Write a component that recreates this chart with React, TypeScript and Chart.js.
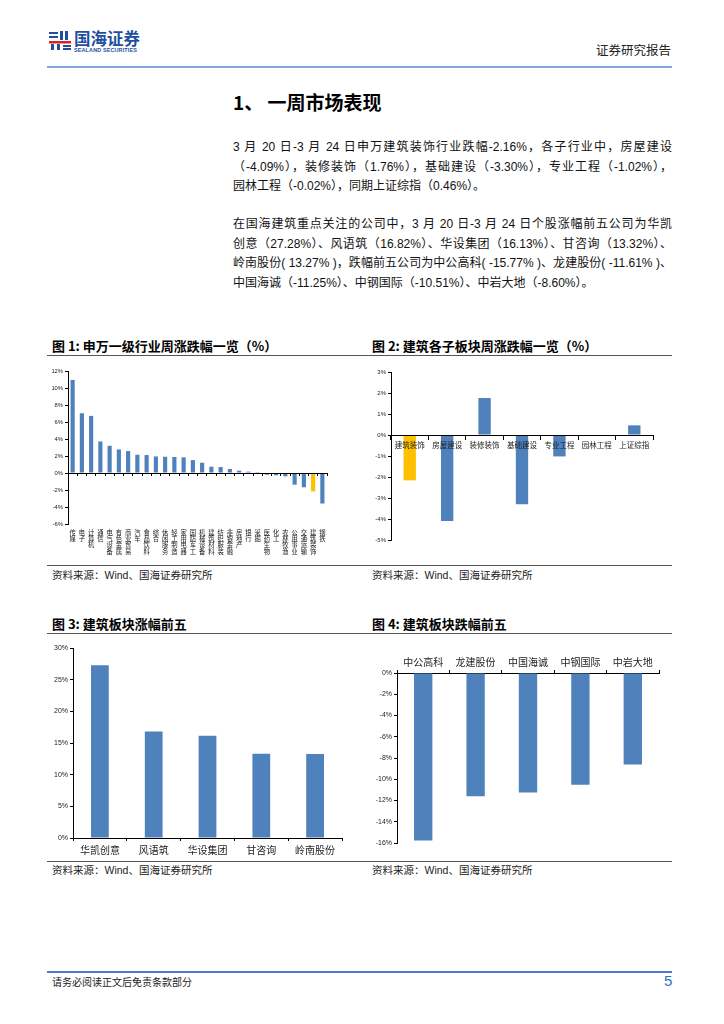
import React, { useEffect, useRef } from 'react';
import { Chart, registerables } from 'chart.js';

Chart.register(...registerables);

const BLUE = '#4F81BD';
const GOLD = '#FFC000';
const LATIN = '"Liberation Sans", Arial, "Noto Sans CJK SC", sans-serif';
const CJK = '"Noto Sans CJK SC", "Liberation Sans", sans-serif';
const HIGHLIGHT = '建筑装饰';

// Figure 1: SW level-1 industries weekly change (%)
const industryLabels = ['传媒', '电子', '计算机', '通信', '电气设备', '有色金属', '商业贸易', '汽车', '食品饮料', '综合', '休闲服务', '轻工制造', '家用电器', '国防军工', '机械设备', '建筑材料', '纺织服装', '非银金融', '房地产', '银行', '采掘', '医药生物', '化工', '农林牧渔', '公用事业', '交通运输', '建筑装饰', '钢铁'];
const industryValues = [10.95, 7.03, 6.72, 3.71, 3.2, 2.77, 2.58, 2.15, 2.11, 1.95, 1.91, 1.88, 1.84, 1.52, 1.21, 0.74, 0.7, 0.47, 0.27, 0.16, 0.02, -0.2, -0.27, -0.39, -1.37, -1.68, -2.16, -3.59];

// Figure 2: construction sub-sectors weekly change (%)
const subLabels = ['建筑装饰', '房屋建设', '装修装饰', '基础建设', '专业工程', '园林工程', '上证综指'];
const subValues = [-2.16, -4.09, 1.76, -3.3, -1.02, -0.02, 0.46];

// Figure 3: top 5 gainers
const topLabels = ['华凯创意', '风语筑', '华设集团', '甘咨询', '岭南股份'];
const topValues = [27.28, 16.82, 16.13, 13.32, 13.27];

// Figure 4: top 5 losers
const lossLabels = ['中公高科', '龙建股份', '中国海诚', '中钢国际', '中岩大地'];
const lossValues = [-15.77, -11.61, -11.25, -10.51, -8.6];

const pct = (v: any) => `${v}%`;

const baseOptions = (padding: any) => ({
  animation: false as const,
  responsive: false,
  maintainAspectRatio: false,
  plugins: { legend: { display: false }, tooltip: { enabled: false } },
  layout: { padding },
});

const yAxis = (min: number, max: number, step: number, width: number, fontSize: number) => ({
  min,
  max,
  ticks: { stepSize: step, callback: pct, font: { size: fontSize, family: LATIN }, color: '#222', padding: 2 },
  grid: { display: true, drawOnChartArea: false, drawTicks: true, tickLength: 3, color: '#000' },
  border: { display: true, color: '#000', width: 1 },
  afterFit: (s: any) => { s.width = width; },
});

function ChartBox({ left, top, width, height, make }: { left: number; top: number; width: number; height: number; make: () => any }) {
  const ref = useRef<HTMLCanvasElement>(null);
  useEffect(() => {
    const chart = new Chart(ref.current as HTMLCanvasElement, make());
    return () => chart.destroy();
  }, []);
  return (
    <div style={{ position: 'absolute', left, top, width, height }}>
      <canvas ref={ref} width={width} height={height} style={{ width, height, display: 'block' }} />
    </div>
  );
}

const chart1 = () => ({
  type: 'bar',
  data: {
    labels: industryLabels.map((s) => s.split('')),
    datasets: [{
      data: industryValues,
      backgroundColor: industryLabels.map((l) => (l === HIGHLIGHT ? GOLD : BLUE)),
      categoryPercentage: 1,
      barPercentage: 0.45,
    }],
  },
  options: {
    ...baseOptions({ top: 9, right: 20, left: 0, bottom: 0 }),
    scales: {
      x: {
        grid: { display: false, drawTicks: false },
        border: { display: false },
        ticks: { font: { size: 6.3, family: CJK, lineHeight: 1.02 }, color: '#222', padding: 5, maxRotation: 0, minRotation: 0, autoSkip: false },
        afterFit: (s: any) => { s.height = 36; },
      },
      x2: {
        axis: 'x',
        type: 'category',
        position: { y: 0 },
        offset: true,
        grid: { display: true, offset: true, drawOnChartArea: false, drawTicks: true, tickLength: 2, color: '#000' },
        border: { display: true, color: '#000', width: 1, z: 1 },
        ticks: { display: false },
      },
      y: yAxis(-6, 12, 2, 21, 5.8),
    },
  },
});

const chart2 = () => ({
  type: 'bar',
  data: {
    labels: subLabels,
    datasets: [{
      data: subValues,
      backgroundColor: subLabels.map((l) => (l === HIGHLIGHT ? GOLD : BLUE)),
      categoryPercentage: 1,
      barPercentage: 0.33,
    }],
  },
  options: {
    ...baseOptions({ top: 10, right: 14, left: 0, bottom: 8 }),
    scales: {
      x: {
        position: { y: 0 },
        offset: true,
        grid: { display: true, offset: true, drawOnChartArea: false, drawTicks: true, tickLength: 4, color: '#000', z: 1 },
        border: { display: true, color: '#000', width: 1, z: 1 },
        ticks: { z: 1, font: { size: 7.5, family: CJK }, color: '#222', padding: 2, maxRotation: 0, minRotation: 0, autoSkip: false },
      },
      y: yAxis(-5, 3, 1, 24, 6),
    },
  },
});

const chart3 = () => ({
  type: 'bar',
  data: {
    labels: topLabels,
    datasets: [{ data: topValues, backgroundColor: BLUE, categoryPercentage: 1, barPercentage: 0.33 }],
  },
  options: {
    ...baseOptions({ top: 8, right: 15, left: 0, bottom: 0 }),
    scales: {
      x: {
        offset: true,
        grid: { display: true, offset: true, drawOnChartArea: false, drawTicks: true, tickLength: 3, color: '#000' },
        border: { display: true, color: '#000', width: 1 },
        ticks: { font: { size: 10, family: CJK }, color: '#222', padding: 3, maxRotation: 0, minRotation: 0, autoSkip: false },
        afterFit: (s: any) => { s.height = 22; },
      },
      y: yAxis(0, 30, 5, 26, 7),
    },
  },
});

const chart4 = () => ({
  type: 'bar',
  data: {
    labels: lossLabels,
    datasets: [{ data: lossValues, backgroundColor: BLUE, categoryPercentage: 1, barPercentage: 0.35 }],
  },
  options: {
    ...baseOptions({ top: 0, right: 8, left: 0, bottom: 7 }),
    scales: {
      x: {
        position: 'top',
        offset: true,
        grid: { display: true, offset: true, drawOnChartArea: false, drawTicks: true, tickLength: 3, color: '#000' },
        border: { display: true, color: '#000', width: 1 },
        ticks: { font: { size: 10, family: CJK }, color: '#222', padding: 2, maxRotation: 0, minRotation: 0, autoSkip: false },
        afterFit: (s: any) => { s.height = 28; },
      },
      y: yAxis(-16, 0, 2, 30, 7),
    },
  },
});

const abs = (left: number, top: number, extra: React.CSSProperties = {}): React.CSSProperties => ({ position: 'absolute', left, top, whiteSpace: 'nowrap', ...extra });

const p1 = [
  '3 月 20 日-3 月 24 日申万建筑装饰行业跌幅-2.16%，各子行业中，房屋建设',
  '（-4.09%），装修装饰（1.76%），基础建设（-3.30%），专业工程（-1.02%），',
  '园林工程（-0.02%），同期上证综指（0.46%）。',
];
const p2 = [
  '在国海建筑重点关注的公司中，3 月 20 日-3 月 24 日个股涨幅前五公司为华凯',
  '创意（27.28%）、风语筑（16.82%）、华设集团（16.13%）、甘咨询（13.32%）、',
  '岭南股份( 13.27% )，跌幅前五公司为中公高科( -15.77% )、龙建股份( -11.61% )、',
  '中国海诚（-11.25%）、中钢国际（-10.51%）、中岩大地（-8.60%）。',
];

function Para({ lines, top }: { lines: string[]; top: number }) {
  return (
    <>
      {lines.map((l, i) => {
        const last = i === lines.length - 1;
        return (
          <div key={i} style={{
            position: 'absolute', left: 233, top: top + i * 19.7, width: 439, height: 20, lineHeight: '20px',
            fontSize: 12, whiteSpace: 'nowrap', textAlign: last ? 'left' : 'justify', textAlignLast: last ? 'left' : 'justify',
            color: '#111',
          }}>{l}</div>
        );
      })}
    </>
  );
}

const rule = (top: number, color = '#555', h = 1): React.CSSProperties => ({ position: 'absolute', left: 47, top, width: 625, height: h, background: color });

const titleStyle: React.CSSProperties = { fontFamily: CJK, fontWeight: 700, fontSize: 13, lineHeight: '16px' };
const srcStyle: React.CSSProperties = { fontFamily: CJK, fontSize: 10.5, lineHeight: '16px', color: '#222' };

export default function App() {
  return (
    <div style={{ position: 'absolute', left: 0, top: 0, width: 724, height: 1024, background: '#fff', fontFamily: LATIN, color: '#000', overflow: 'hidden' }}>
      {/* header */}
      <svg style={{ position: 'absolute', left: 49, top: 31 }} width={22} height={19}>
        <rect x={0} y={1} width={9} height={2} fill="#1F4FA0" />
        <rect x={0} y={5} width={9} height={2} fill="#1F4FA0" />
        <rect x={11} y={0} width={3} height={9} fill="#1F4FA0" />
        <rect x={16} y={0} width={3} height={9} fill="#1F4FA0" />
        <rect x={0} y={10} width={22} height={2.5} fill="#E02020" />
        <rect x={2} y={13} width={3} height={6} fill="#1F4FA0" />
        <rect x={8} y={13} width={3} height={6} fill="#1F4FA0" />
        <rect x={14} y={14} width={8} height={2} fill="#1F4FA0" />
        <rect x={14} y={17} width={8} height={2} fill="#1F4FA0" />
      </svg>
      <div style={abs(74, 30, { fontFamily: CJK, fontWeight: 700, fontSize: 16.5, lineHeight: '17px', color: '#1F4FA0' })}>国海证券</div>
      <div style={abs(74, 47, { fontFamily: LATIN, fontWeight: 700, fontSize: 5.5, lineHeight: '6px', color: '#1F4FA0', letterSpacing: 0.1 })}>SEALAND SECURITIES</div>
      <div style={abs(596, 42, { fontFamily: CJK, fontSize: 12.5, lineHeight: '16px', color: '#222' })}>证券研究报告</div>
      <div style={rule(66, '#7EA6E0', 1.5)} />

      {/* section title */}
      <div style={abs(233, 90, { fontFamily: CJK, fontWeight: 700, fontSize: 19, lineHeight: '24px' })}>1、 一周市场表现</div>

      <Para lines={p1} top={137} />
      <Para lines={p2} top={214} />

      {/* figure 1 & 2 titles */}
      <div style={abs(52, 338, titleStyle)}>图 1:  申万一级行业周涨跌幅一览（%）</div>
      <div style={abs(372, 338, titleStyle)}>图 2:  建筑各子板块周涨跌幅一览（%）</div>
      <div style={rule(355)} />

      <ChartBox left={47} top={362} width={300} height={198} make={chart1} />
      <ChartBox left={367} top={362} width={300} height={186} make={chart2} />

      <div style={rule(565)} />
      <div style={abs(52, 567, srcStyle)}>资料来源：<span style={{ fontFamily: LATIN }}>Wind</span>、国海证券研究所</div>
      <div style={abs(372, 567, srcStyle)}>资料来源：<span style={{ fontFamily: LATIN }}>Wind</span>、国海证券研究所</div>

      {/* figure 3 & 4 titles */}
      <div style={abs(52, 616, titleStyle)}>图 3:  建筑板块涨幅前五</div>
      <div style={abs(372, 616, titleStyle)}>图 4:  建筑板块跌幅前五</div>
      <div style={rule(633)} />

      <ChartBox left={47} top={640} width={310} height={220} make={chart3} />
      <ChartBox left={367} top={645} width={300} height={205} make={chart4} />

      <div style={rule(861)} />
      <div style={abs(52, 862, srcStyle)}>资料来源：<span style={{ fontFamily: LATIN }}>Wind</span>、国海证券研究所</div>
      <div style={abs(372, 862, srcStyle)}>资料来源：<span style={{ fontFamily: LATIN }}>Wind</span>、国海证券研究所</div>

      {/* footer */}
      <div style={rule(971, '#4A7CC9', 1.5)} />
      <div style={abs(52, 974, { fontFamily: CJK, fontSize: 10, lineHeight: '16px', color: '#222' })}>请务必阅读正文后免责条款部分</div>
      <div style={abs(664, 971, { fontFamily: LATIN, fontSize: 15, lineHeight: '20px', color: '#2F6EBA' })}>5</div>
    </div>
  );
}
